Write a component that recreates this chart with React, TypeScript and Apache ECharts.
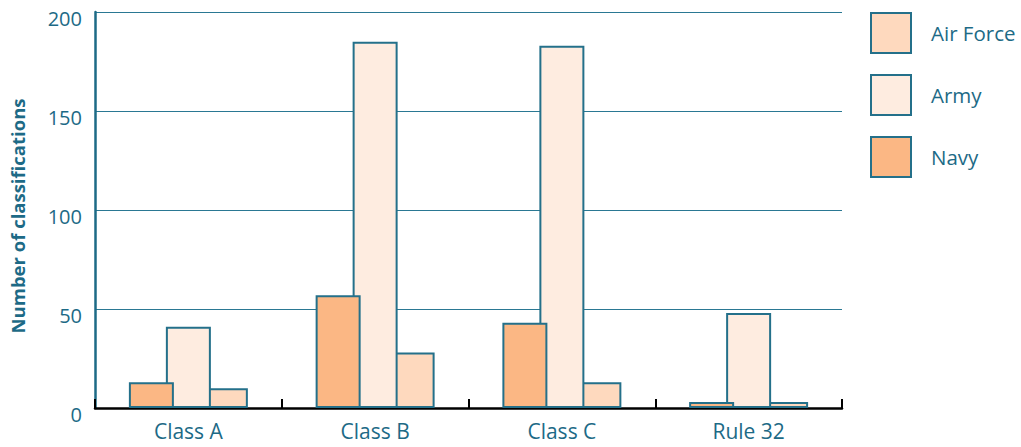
import React, { useEffect, useRef } from "react";
import * as echarts from "echarts";

const categories = ["Class A", "Class B", "Class C", "Rule 32"];
const navy = [13, 57, 43, 3];
const army = [41, 185, 183, 48];
const airForce = [10, 28, 13, 3];
const legendOrder = ["Air Force", "Army", "Navy"];
const yTicks = { min: 0, max: 200, interval: 50 };

const TEAL = "#1d6a86";
const BORDER = "#24708a";
const FONT = "Open Sans";

export default function App() {
  const ref = useRef<HTMLDivElement>(null);
  useEffect(() => {
    if (!ref.current) return;
    const chart = echarts.init(ref.current, undefined, { renderer: "svg" });
    const barCommon = {
      type: "bar" as const,
      barWidth: 45,
      barGap: "-17.8%",
    };
    chart.setOption({
      animation: false,
      textStyle: { fontFamily: FONT },
      grid: { left: 95, right: 179, top: 12, bottom: 39, containLabel: false },
      legend: {
        orient: "vertical",
        left: 870,
        top: 12,
        padding: 0,
        itemWidth: 40,
        itemHeight: 40,
        itemGap: 20,
        icon: "rect",
        data: legendOrder,
        textStyle: {
          color: TEAL,
          fontSize: 20.5,
          fontFamily: FONT,
          padding: [10, 0, 0, 15],
        },
      },
      xAxis: {
        type: "category",
        data: categories,
        axisLine: { show: true, lineStyle: { color: "#000", width: 2.5 } },
        axisTick: {
          show: true,
          inside: true,
          length: 9,
          lineStyle: { color: "#000", width: 2 },
        },
        axisLabel: { color: TEAL, fontSize: 21, fontFamily: FONT, margin: 12 },
        splitLine: { show: false },
      },
      yAxis: {
        type: "value",
        min: yTicks.min,
        max: yTicks.max,
        interval: yTicks.interval,
        name: "Number of classifications",
        nameLocation: "middle",
        nameGap: 68,
        nameTextStyle: {
          color: TEAL,
          fontSize: 18.5,
          fontWeight: "bold",
          fontFamily: FONT,
          padding: [0, 12, 0, 0],
        },
        axisLine: { show: true, lineStyle: { color: TEAL, width: 2.5 } },
        axisTick: { show: false },
        axisLabel: {
          color: TEAL,
          fontSize: 20,
          fontFamily: FONT,
          margin: 13,
          verticalAlign: "top",
          lineHeight: 12,
        },
        splitLine: { show: true, lineStyle: { color: "#2a7893", width: 1 } },
      },
      series: [
        {
          ...barCommon,
          name: "Navy",
          data: navy,
          z: 4,
          itemStyle: { color: "#fbb784", borderColor: BORDER, borderWidth: 2 },
        },
        {
          ...barCommon,
          name: "Army",
          data: army,
          z: 3,
          itemStyle: { color: "#feece0", borderColor: BORDER, borderWidth: 2 },
        },
        {
          ...barCommon,
          name: "Air Force",
          data: airForce,
          z: 2,
          itemStyle: { color: "#fed9be", borderColor: BORDER, borderWidth: 2 },
        },
      ],
    });
    return () => chart.dispose();
  }, []);
  return (
    <div
      ref={ref}
      style={{ position: "fixed", left: 0, top: 0, width: 1021, height: 447, background: "#fff" }}
    />
  );
}
